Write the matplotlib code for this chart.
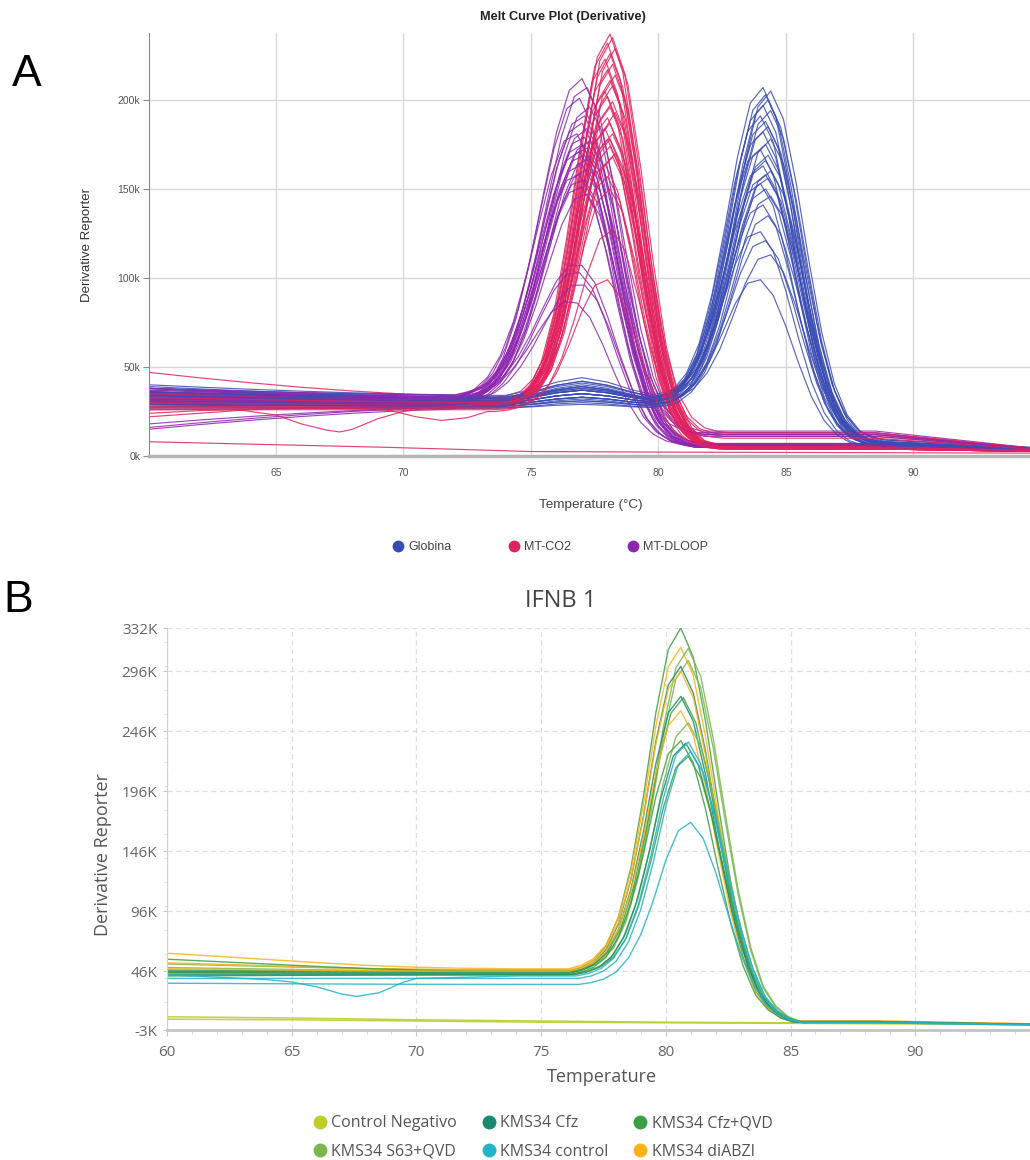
import matplotlib.pyplot as plt
import numpy as np
from matplotlib.lines import Line2D

W, H = 1030, 1160

# ---------------- Panel A: Melt Curve Plot (Derivative), values in k ----------------
GROUPS_A = ["Globina", "MT-CO2", "MT-DLOOP"]
COLORS_A = {"Globina": "#3a4cb4", "MT-CO2": "#e2225e", "MT-DLOOP": "#8e27b0"}

# baseline before the melt peak
PRE_T_A = [60, 62, 64, 66, 68, 70, 72, 74, 75, 76, 77, 78, 79]
RAMP_A = [0.0, 0.22, 0.42, 0.6, 0.75, 0.87, 0.95, 1.0, 1.0, 1.0, 1.0, 1.0, 1.0]
HUMP_A = [0, 0, 0, 0, 0, 0, 0, 0, 0.3, 0.75, 1.0, 0.75, 0.3]

# peak profile around Tm (offsets in degC)
OFFSETS = [-4.5, -4, -3.5, -3, -2.5, -2, -1.5, -1, -0.5, 0, 0.5, 1, 1.5, 2, 2.5, 3, 3.5, 4, 4.5]
BG_W = [1, 1, 1, 1, 1, 0.98, 0.95, 0.9, 0.8, 0.65, 0.5, 0.35, 0.22, 0.12, 0.06, 0.03, 0.01, 0, 0]
SHAPE_GLOBINA = [0.003, 0.011, 0.031, 0.079, 0.171, 0.323, 0.53, 0.754, 0.932, 1.0,
                 0.932, 0.754, 0.53, 0.323, 0.171, 0.079, 0.031, 0.011, 0.0]
SHAPE_CO2 = [0.0, 0.005, 0.016, 0.049, 0.12, 0.26, 0.47, 0.715, 0.92, 1.0,
             0.92, 0.715, 0.47, 0.26, 0.12, 0.049, 0.016, 0.005, 0.0]
SHAPE_DLOOP = [0.015, 0.036, 0.078, 0.154, 0.272, 0.435, 0.626, 0.812, 0.949, 1.0,
               0.934, 0.76, 0.539, 0.334, 0.18, 0.085, 0.035, 0.012, 0.0]

GLOBINA_PEAK = [207, 205, 203, 200, 197, 194, 191, 188, 185, 182, 178, 175, 172, 169,
                166, 163, 160, 158, 156, 153, 150, 146, 141, 135, 126, 121, 113, 99]
GLOBINA_TM = [84.1, 84.4, 84.2, 84.3, 84.1, 84.4, 84.0, 84.2, 84.3, 84.1, 84.4, 84.2, 84.0, 84.3,
              84.2, 84.1, 84.4, 84.2, 84.3, 84.0, 84.2, 84.4, 84.1, 84.3, 84.0, 84.2, 84.4, 84.0]
GLOBINA_START = [38, 35, 33, 40, 31, 36, 29, 34, 37, 32, 30, 39, 35, 33,
                 28, 36, 31, 34, 38, 32, 30, 35, 33, 27, 36, 31, 34, 29]
GLOBINA_MID = [32, 31, 30, 34, 29, 32, 28, 31, 33, 30, 29, 33, 31, 30,
               27, 32, 29, 31, 33, 30, 28, 31, 30, 27, 32, 29, 31, 28]
GLOBINA_HUMP = [6, 8, 5, 10, 4, 7, 3, 6, 9, 5, 4, 8, 6, 5, 3, 7, 4, 6, 9, 5, 4, 7, 5, 2, 8, 4, 6, 3]
GLOBINA_TAIL = [7, 8, 6, 9, 7, 6, 8, 5, 7, 6, 9, 7, 6, 8, 5, 7, 6, 8, 7, 6, 5, 7, 6, 8, 5, 6, 7, 5]
GLOBINA_END = [3.5, 4, 3, 4.5, 3.5, 3, 4, 3, 3.5, 3, 4.5, 3.5, 3, 4, 3, 3.5, 3, 4, 3.5, 3, 3, 3.5, 3, 4, 3, 3, 3.5, 3]

CO2_PEAK = [237, 235, 232, 229, 226, 223, 220, 217, 214, 211, 208, 205, 202, 199,
            196, 193, 190, 187, 184, 181, 178, 174, 170, 164, 157, 127, 99, 150]
CO2_TM = [78.1, 78.2, 78.0, 78.3, 78.1, 77.9, 78.2, 78.0, 78.3, 78.1, 78.2, 77.9, 78.0, 78.2,
          78.1, 78.3, 78.0, 78.1, 77.9, 78.2, 78.0, 78.1, 78.3, 77.9, 78.0, 78.2, 78.0, 78.1]
CO2_START = [47, 36, 32, 30, 34, 28, 38, 31, 29, 35, 33, 27, 30, 36,
             32, 29, 34, 31, 26, 33, 30, 28, 35, 31, 29, 27, 26, 33]
CO2_MID = [33, 31, 30, 29, 31, 28, 32, 29, 28, 31, 30, 27, 29, 31,
           30, 28, 31, 29, 27, 30, 29, 28, 31, 29, 28, 27, 26, 30]
CO2_TAIL = [5, 4, 6, 5, 12, 4, 5, 6, 4, 11, 5, 4, 6, 5, 4, 13, 5, 4, 6, 5, 4, 5, 6, 4, 5, 4, 5, 10]
CO2_END = [3, 2.5, 3, 3.5, 4, 2.5, 3, 3, 2.5, 4, 3, 2.5, 3, 3, 2.5, 4, 3, 2.5, 3, 3, 2.5, 3, 3, 2.5, 3, 2.5, 3, 3.5]

# two MT-CO2 wells with a wavy baseline, and the no-template well
CO2_WAVY1_T = [60, 62, 63.5, 65, 66, 67, 67.5, 68, 69, 70, 71, 72, 73]
CO2_WAVY1_V = [24, 25.5, 26, 23, 18, 14.5, 13.5, 15, 21, 25, 27, 28, 29]
CO2_WAVY2_T = [60, 62, 64, 66, 68, 69.5, 70.5, 71.5, 72.5, 73.3]
CO2_WAVY2_V = [22, 24, 26, 27, 27, 25.5, 22, 20, 21.5, 25]
CO2_WAVY_PEAK = [168, 178]
CO2_WAVY_TM = [78.2, 78.1]
NTC_T = [60, 63, 66, 69, 72, 75, 80, 85, 90, 95]
NTC_V = [8, 7, 6, 5, 3.8, 2.5, 2.2, 2.0, 1.8, 1.6]

DLOOP_PEAK = [212, 207, 201, 196, 191, 187, 184, 181, 179, 177, 175, 173, 171, 169,
              167, 164, 161, 158, 155, 151, 147, 107, 103, 96, 86]
DLOOP_TM = [77.0, 77.2, 76.9, 77.3, 77.1, 77.0, 77.2, 76.8, 77.1, 77.3, 77.0, 77.2, 76.9, 77.1,
            77.3, 77.0, 77.2, 76.9, 77.1, 77.0, 77.2, 77.0, 76.9, 77.1, 76.8]
DLOOP_START = [35, 38, 15, 33, 36, 16, 31, 34, 37, 30, 18, 35, 32, 36, 33, 29, 34, 31, 38, 30, 33, 36, 29, 32, 34]
DLOOP_MID = [32, 34, 27, 31, 33, 28, 30, 32, 33, 29, 28, 32, 30, 33, 31, 28, 32, 30, 34, 29, 31, 33, 28, 30, 32]
DLOOP_TAIL = [13, 6, 5, 12, 7, 5, 14, 6, 5, 11, 6, 5, 13, 7, 5, 6, 12, 5, 6, 5, 7, 5, 6, 5, 6]
DLOOP_END = [3, 2.5, 2.5, 3.5, 3, 2.5, 4, 3, 2.5, 3.5, 3, 2.5, 3.5, 3, 2.5, 3, 3.5, 2.5, 3, 2.5, 3, 2.5, 3, 2.5, 3]

# ---------------- Panel B: IFNB 1, values in K ----------------
LABELS_B = ["Control Negativo", "KMS34 Cfz", "KMS34 Cfz+QVD",
            "KMS34 S63+QVD", "KMS34 control", "KMS34 diABZI"]
COLORS_B = {"Control Negativo": "#bccd2c", "KMS34 Cfz": "#178a70", "KMS34 Cfz+QVD": "#3b9f45",
            "KMS34 S63+QVD": "#79b74a", "KMS34 control": "#22b3cc", "KMS34 diABZI": "#fdb217"}

PRE_T_B = [60, 62, 64, 66, 68, 70, 72, 74, 75.5]
RAMP_B = [0, 0.2, 0.4, 0.6, 0.78, 0.9, 0.97, 1, 1]
SHAPE_B = [0.0, 0.01, 0.03, 0.07, 0.15, 0.29, 0.49, 0.73, 0.92, 1.0, 0.94, 0.78, 0.57, 0.37, 0.21, 0.1, 0.045, 0.015, 0.0]

B_SAMPLE = ["KMS34 Cfz+QVD", "KMS34 diABZI", "KMS34 S63+QVD", "KMS34 S63+QVD", "KMS34 Cfz",
            "KMS34 diABZI", "KMS34 Cfz", "KMS34 Cfz+QVD", "KMS34 diABZI", "KMS34 S63+QVD",
            "KMS34 Cfz+QVD", "KMS34 Cfz", "KMS34 control", "KMS34 Cfz+QVD", "KMS34 control"]
B_START = [47, 61, 52, 49, 46, 53, 45, 56, 48, 44, 42, 43, 40, 45, 36]
B_MID = [46, 48, 47, 46, 45, 47, 44, 46, 46, 44, 43, 43, 40, 44, 35]
B_PEAK = [332, 316, 315, 305, 300, 296, 275, 274, 263, 253, 238, 236, 229, 225, 170]
B_TM = [80.6, 80.6, 80.9, 80.9, 80.6, 80.6, 80.6, 80.7, 80.6, 80.9, 80.6, 80.8, 81.0, 80.9, 81.0]
B_TAIL = [4, 4.5, 4, 3.5, 4, 4.5, 3.5, 4, 4, 3.5, 4, 3.5, 3, 4, 3]
B_END = [1.5, 2, 1.5, 1.5, 1.5, 2, 1.5, 1.5, 2, 1.5, 1.5, 1.5, 1, 1.5, 1]

# KMS34 control well with the baseline dip near 67.6 degC
CYAN_DIP_T = [60, 62, 64, 65, 66, 67, 67.6, 68.5, 69.5, 70, 72, 74, 75.5]
CYAN_DIP_V = [43, 41, 39, 37, 33, 27, 25, 28, 37, 40, 41, 42, 42]
CYAN_DIP_PEAK = 237
CYAN_DIP_TM = 80.9

NEG_T = [60, 65, 70, 75, 80, 85, 90, 95]
NEG_V1 = [8, 7, 5.5, 4.5, 3.5, 3, 2.5, 2]
NEG_V2 = [6, 5.5, 4.5, 3.5, 3, 2.5, 2, 1.5]


def melt_curve(pre_t, pre_v, mid, tm, peak, tail, end, shape):
    off = np.array(OFFSETS)
    bg = np.array(BG_W)
    pre_t = np.asarray(pre_t, float)
    pre_v = np.asarray(pre_v, float)
    keep = pre_t < tm + off[0]
    bg_line = mid * bg + tail * (1 - bg)
    amp = peak - bg_line[off == 0][0]
    win_v = bg_line + amp * np.array(shape)
    tail_t, tail_v = [], []
    if tm + off[-1] < 88.5:
        tail_t.append(88.5)
        tail_v.append(tail)
    tail_t.append(95)
    tail_v.append(end)
    x = np.concatenate([pre_t[keep], tm + off, tail_t])
    y = np.concatenate([pre_v[keep], win_v, tail_v])
    return x, y


fig = plt.figure(figsize=(W / 100, H / 100), dpi=100)


def box(left, top, right, bottom):
    return [left / W, 1 - bottom / H, (right - left) / W, (bottom - top) / H]


# ======================= Panel A =======================
plt.rcParams["font.family"] = ["Liberation Sans", "DejaVu Sans"]
ax = fig.add_axes(box(148.5, 33, 1030, 456))
ramp_a = np.array(RAMP_A)
hump_a = np.array(HUMP_A)

curves_a = {"Globina": [], "MT-CO2": [], "MT-DLOOP": []}
for i in range(len(GLOBINA_PEAK)):
    pre = GLOBINA_START[i] + (GLOBINA_MID[i] - GLOBINA_START[i]) * ramp_a + GLOBINA_HUMP[i] * hump_a
    curves_a["Globina"].append(melt_curve(PRE_T_A, pre, GLOBINA_MID[i], GLOBINA_TM[i], GLOBINA_PEAK[i],
                                          GLOBINA_TAIL[i], GLOBINA_END[i], SHAPE_GLOBINA))
for i in range(len(CO2_PEAK)):
    pre = CO2_START[i] + (CO2_MID[i] - CO2_START[i]) * ramp_a
    curves_a["MT-CO2"].append(melt_curve(PRE_T_A, pre, CO2_MID[i], CO2_TM[i], CO2_PEAK[i],
                                         CO2_TAIL[i], CO2_END[i], SHAPE_CO2))
for wt, wv, pk, tm in zip([CO2_WAVY1_T, CO2_WAVY2_T], [CO2_WAVY1_V, CO2_WAVY2_V], CO2_WAVY_PEAK, CO2_WAVY_TM):
    curves_a["MT-CO2"].append(melt_curve(wt, wv, wv[-1], tm, pk, 5, 3, SHAPE_CO2))
for i in range(len(DLOOP_PEAK)):
    pre = DLOOP_START[i] + (DLOOP_MID[i] - DLOOP_START[i]) * ramp_a
    curves_a["MT-DLOOP"].append(melt_curve(PRE_T_A, pre, DLOOP_MID[i], DLOOP_TM[i], DLOOP_PEAK[i],
                                           DLOOP_TAIL[i], DLOOP_END[i], SHAPE_DLOOP))

n_max = max(len(v) for v in curves_a.values())
for i in range(n_max):
    for g in GROUPS_A:
        if i < len(curves_a[g]):
            x, y = curves_a[g][i]
            ax.plot(x, y, color=COLORS_A[g], lw=0.85, alpha=0.85)
ax.plot(NTC_T, NTC_V, color=COLORS_A["MT-CO2"], lw=0.85, alpha=0.85)

ax.set_xlim(60, 94.57)
ax.set_ylim(0, 237.6)
ax.set_xticks([65, 70, 75, 80, 85, 90])
ax.set_yticks([0, 50, 100, 150, 200])
ax.set_yticklabels(["0k", "50k", "100k", "150k", "200k"])
ax.grid(color="#d8d8d8", lw=1)
ax.set_axisbelow(True)
for s in ["top", "right"]:
    ax.spines[s].set_visible(False)
ax.spines["left"].set_color("#8a8a8a")
ax.spines["bottom"].set_color("#b4b4b4")
ax.spines["bottom"].set_linewidth(2.5)
ax.tick_params(axis="x", length=0, pad=9, labelsize=7.5, labelcolor="#555555")
ax.tick_params(axis="y", length=4, width=0.8, color="#8a8a8a", pad=2, labelsize=7.5, labelcolor="#555555")

fig.text(563 / W, 1 - 17 / H, "Melt Curve Plot (Derivative)", ha="center", va="center",
         fontsize=9.2, weight="bold", color="#222222")
fig.text(87 / W, 1 - 245 / H, "Derivative Reporter", rotation=90, ha="center", va="center",
         fontsize=9.5, color="#333333")
fig.text(591 / W, 1 - 505 / H, "Temperature (°C)", ha="center", va="center", fontsize=9.7, color="#444444")
handles_a = [Line2D([], [], ls="none", marker="o", ms=7.5, color=COLORS_A[g]) for g in GROUPS_A]
fig.legend(handles_a, GROUPS_A, loc="center", bbox_to_anchor=(550 / W, 1 - 547 / H), ncol=3,
           frameon=False, fontsize=9, handlelength=1, handletextpad=0.3, columnspacing=4.5,
           labelcolor="#444444")
fig.text(12 / W, 1 - 86 / H, "A", fontsize=32, ha="left", va="baseline")

# ======================= Panel B =======================
bfont = ["Open Sans", "DejaVu Sans"]
bx = fig.add_axes(box(167, 628, 1030, 1030))
ramp_b = np.array(RAMP_B)

bx.plot(NEG_T, NEG_V1, color=COLORS_B["Control Negativo"], lw=1.1, alpha=0.9)
bx.plot(NEG_T, NEG_V2, color=COLORS_B["Control Negativo"], lw=1.1, alpha=0.9)
for i in range(len(B_PEAK)):
    pre = B_START[i] + (B_MID[i] - B_START[i]) * ramp_b
    x, y = melt_curve(PRE_T_B, pre, B_MID[i], B_TM[i], B_PEAK[i], B_TAIL[i], B_END[i], SHAPE_B)
    bx.plot(x, y, color=COLORS_B[B_SAMPLE[i]], lw=1.0, alpha=0.85)
x, y = melt_curve(CYAN_DIP_T, CYAN_DIP_V, CYAN_DIP_V[-1], CYAN_DIP_TM, CYAN_DIP_PEAK, 3.5, 1.5, SHAPE_B)
bx.plot(x, y, color=COLORS_B["KMS34 control"], lw=1.0, alpha=0.85)

yt_b = [-3, 46, 96, 146, 196, 246, 296, 332]
bx.set_xlim(60, 94.6)
bx.set_ylim(-3, 332)
bx.set_xticks([60, 65, 70, 75, 80, 85, 90])
bx.set_xticks(np.arange(61, 95, 1), minor=True)
bx.set_yticks(yt_b)
bx.set_yticklabels([f"{v}K" for v in yt_b], family=bfont)
bx.set_yticks(np.arange(20, 330, 20), minor=True)
for lab in bx.get_xticklabels():
    lab.set_family(bfont)
bx.grid(which="major", color="#dedede", lw=0.9, ls=(0, (4, 3)))
bx.set_axisbelow(True)
for s in ["top", "right"]:
    bx.spines[s].set_visible(False)
bx.spines["left"].set_color("#d0d0d0")
bx.spines["bottom"].set_color("#c4c4c4")
bx.spines["bottom"].set_linewidth(2)
bx.tick_params(axis="x", which="major", length=4, color="#c8c8c8", pad=7, labelsize=11, labelcolor="#666666")
bx.tick_params(axis="x", which="minor", length=3, color="#d0d0d0")
bx.tick_params(axis="y", which="major", length=3, color="#c8c8c8", pad=4, labelsize=11, labelcolor="#666666")
bx.tick_params(axis="y", which="minor", length=2.5, color="#d8d8d8")

fig.text(561 / W, 1 - 601 / H, "IFNB 1", ha="center", va="center", fontsize=17, color="#444444", family=bfont)
fig.text(103 / W, 1 - 855 / H, "Derivative Reporter", rotation=90, ha="center", va="center",
         fontsize=13, color="#555555", family=bfont)
fig.text(602 / W, 1 - 1077 / H, "Temperature", ha="center", va="center", fontsize=13,
         color="#555555", family=bfont)
order_b = ["Control Negativo", "KMS34 S63+QVD", "KMS34 Cfz", "KMS34 control", "KMS34 Cfz+QVD", "KMS34 diABZI"]
handles_b = [Line2D([], [], ls="none", marker="o", ms=9, color=COLORS_B[g]) for g in order_b]
fig.legend(handles_b, order_b, loc="center", bbox_to_anchor=(543 / W, 1 - 1137.5 / H), ncol=3,
           frameon=False, prop={"family": bfont, "size": 11.5}, handlelength=0.8, handletextpad=0.3,
           columnspacing=1.6, labelspacing=0.8, labelcolor="#555555")
fig.text(3 / W, 1 - 612 / H, "B", fontsize=32, ha="left", va="baseline")

fig.savefig("out.png", dpi=100)
